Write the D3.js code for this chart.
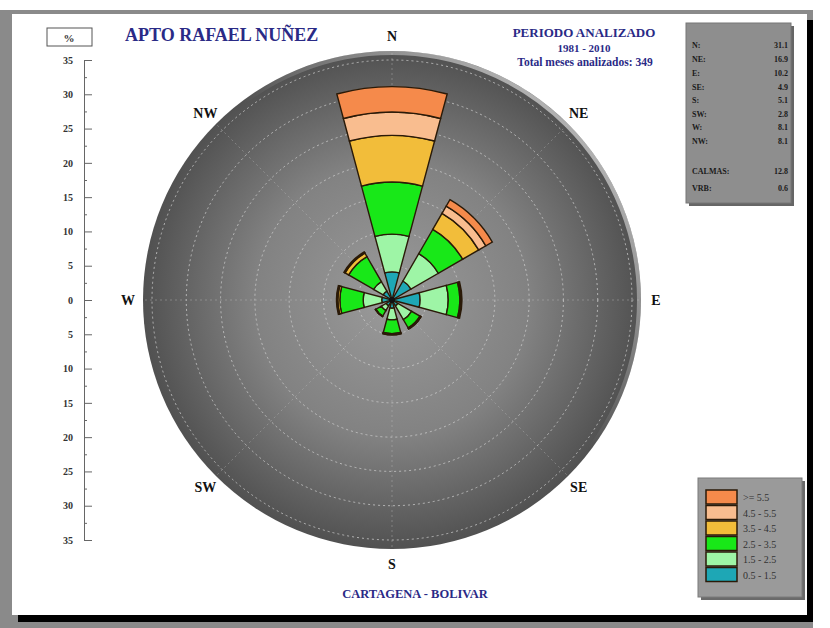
<!DOCTYPE html>
<meta charset="utf-8">
<style>
body { margin: 0; background: #fff; }
text { font-family: "Liberation Serif", "DejaVu Serif", serif; font-weight: bold; }
.grid circle { fill: none; stroke: #d0d0d0; stroke-opacity: 0.75; stroke-dasharray: 2,3; }
.grid line { stroke: #c8c8c8; stroke-opacity: 0.35; stroke-dasharray: 2,3; }
.petals path { stroke: #2a1a08; stroke-width: 1.4px; }
.axis text { font-size: 10px; fill: #333; }
.axis path, .axis line { stroke: #666; }
</style>
<svg width="830" height="628"></svg>
<script src="https://d3js.org/d3.v7.min.js"></script>
<script>

// ---- data ----
var directions = ["N", "NE", "E", "SE", "S", "SW", "W", "NW"];
var speedClasses = ["0.5 - 1.5", "1.5 - 2.5", "2.5 - 3.5", "3.5 - 4.5", "4.5 - 5.5", ">= 5.5"];
var classColors = ["#1ea7b5", "#9ef5a6", "#18e818", "#f2bd3a", "#f9bd8f", "#f58a4b"];

// frequency (%) of each speed class, one array per direction (N, NE, ... NW)
var freqN  = [4.1, 5.5, 7.6, 6.8, 3.4, 3.7];
var freqNE = [3.2, 4.6, 4.1, 2.7, 1.2, 1.1];
var freqE  = [4.1, 4.1, 1.7, 0.1, 0.1, 0.1];
var freqSE = [1.0, 2.3, 1.4, 0.1, 0.05, 0.05];
var freqS  = [1.2, 1.7, 2.0, 0.1, 0.05, 0.05];
var freqSW = [1.0, 0.8, 0.9, 0.05, 0.03, 0.02];
var freqW  = [1.5, 2.7, 3.4, 0.3, 0.1, 0.1];
var freqNW = [1.5, 1.6, 4.2, 0.6, 0.1, 0.1];

var statLabels = ["N:", "NE:", "E:", "SE:", "S:", "SW:", "W:", "NW:", "CALMAS:", "VRB:"];
var statValues = ["31.1", "16.9", "10.2", "4.9", "5.1", "2.8", "8.1", "8.1", "12.8", "0.6"];

var axisMajor = [-35, -30, -25, -20, -15, -10, -5, 0, 5, 10, 15, 20, 25, 30, 35];
var rings = [5, 10, 15, 20, 25, 30, 35];

var svg = d3.select("svg");
var cx = 392, cy = 300;
var navy = "#2a2a86";

// ---- frame ----
svg.append("rect").attr("x", 0).attr("y", 10).attr("width", 813).attr("height", 618).attr("fill", "#8a8a8a");
svg.append("rect").attr("x", 18).attr("y", 20).attr("width", 795).attr("height", 602).attr("fill", "#000");
svg.append("rect").attr("x", 12).attr("y", 14).attr("width", 795).attr("height", 601).attr("fill", "#fff");

// ---- scales ----
var r = d3.scaleLinear().domain([0, 35]).range([0, 240]);
var y = d3.scaleLinear().domain([-35, 35]).range([540, 60]);

// ---- background disc ----
var defs = svg.append("defs");
var grad = defs.append("radialGradient").attr("id", "disc").attr("cx", "50%").attr("cy", "50%").attr("r", "50%");
grad.append("stop").attr("offset", "0%").attr("stop-color", "#9a9a9a");
grad.append("stop").attr("offset", "55%").attr("stop-color", "#828282");
grad.append("stop").attr("offset", "100%").attr("stop-color", "#515151");

var hl = defs.append("linearGradient").attr("id", "shine").attr("x1", "0%").attr("y1", "100%").attr("x2", "100%").attr("y2", "0%");
hl.append("stop").attr("offset", "55%").attr("stop-color", "#fff").attr("stop-opacity", 0);
hl.append("stop").attr("offset", "85%").attr("stop-color", "#fff").attr("stop-opacity", 0.55);
hl.append("stop").attr("offset", "100%").attr("stop-color", "#fff").attr("stop-opacity", 0.2);

var chart = svg.append("g").attr("transform", "translate(" + cx + "," + cy + ")");
chart.append("circle").attr("r", 249).attr("fill", "url(#disc)");
chart.append("circle").attr("r", 247).attr("fill", "none").attr("stroke", "url(#shine)").attr("stroke-width", 4);

var grid = chart.append("g").attr("class", "grid");
grid.selectAll("circle").data(rings).enter().append("circle").attr("r", function(d) { return r(d); });
grid.selectAll("line").data(directions).enter().append("line")
    .attr("x1", 0).attr("y1", 0)
    .attr("x2", function(d, i) { return 249 * Math.sin(i * Math.PI / 4); })
    .attr("y2", function(d, i) { return -249 * Math.cos(i * Math.PI / 4); });

// ---- petals ----
var freqs = [freqN, freqNE, freqE, freqSE, freqS, freqSW, freqW, freqNW];
var half = 15 * Math.PI / 180;
var segments = [];
freqs.forEach(function(f, i) {
  var cum = 0;
  f.forEach(function(v, k) {
    segments.push({dir: i, cls: k, r0: cum, r1: cum + v});
    cum += v;
  });
});
var arc = d3.arc()
    .innerRadius(function(d) { return r(d.r0); })
    .outerRadius(function(d) { return r(d.r1); })
    .startAngle(function(d) { return d.dir * Math.PI / 4 - half; })
    .endAngle(function(d) { return d.dir * Math.PI / 4 + half; });

chart.append("g").attr("class", "petals")
  .selectAll("path")
  .data(segments)
  .enter().append("path")
    .attr("d", arc)
    .attr("fill", function(d) { return classColors[d.cls]; });
chart.append("circle").attr("r", 3).attr("fill", "#111");

// ---- compass labels ----
var labelR = 264;
chart.selectAll("text.dir").data(directions).enter().append("text")
    .attr("class", "dir")
    .attr("x", function(d, i) { return labelR * Math.sin(i * Math.PI / 4); })
    .attr("y", function(d, i) { return -labelR * Math.cos(i * Math.PI / 4) + 5; })
    .attr("text-anchor", "middle")
    .attr("font-size", 14)
    .attr("fill", "#111")
    .text(function(d) { return d; });

// ---- left axis ----
var minor = d3.range(-35, 35.1, 2.5).filter(function(d) { return d % 5 !== 0; });
svg.append("g").attr("class", "axis").attr("transform", "translate(84,0)")
  .call(d3.axisRight(y).tickValues(minor).tickSize(3).tickSizeOuter(0).tickFormat(""));
var ax = svg.append("g").attr("class", "axis").attr("transform", "translate(84,0)")
  .call(d3.axisRight(y).tickValues(axisMajor).tickSize(8).tickSizeOuter(8).tickFormat(function(d) { return Math.abs(d); }));
ax.selectAll("text").attr("x", -11).attr("text-anchor", "end");

svg.append("rect").attr("x", 47).attr("y", 28).attr("width", 45).attr("height", 18)
    .attr("fill", "#fff").attr("stroke", "#555").attr("stroke-width", 1);
svg.append("text").attr("x", 69).attr("y", 42).attr("text-anchor", "middle").attr("font-size", 11).attr("fill", "#333").text("%");

// ---- titles ----
svg.append("text").attr("x", 125).attr("y", 41).attr("font-size", 18).attr("fill", navy).text("APTO RAFAEL NUÑEZ");
svg.append("text").attr("x", 584).attr("y", 37).attr("text-anchor", "middle").attr("font-size", 13).attr("fill", navy).text("PERIODO ANALIZADO");
svg.append("text").attr("x", 584).attr("y", 52).attr("text-anchor", "middle").attr("font-size", 11).attr("fill", navy).text("1981 - 2010");
svg.append("text").attr("x", 585).attr("y", 66).attr("text-anchor", "middle").attr("font-size", 11.5).attr("fill", navy).text("Total meses analizados: 349");
svg.append("text").attr("x", 415).attr("y", 598).attr("text-anchor", "middle").attr("font-size", 12.5).attr("fill", navy).text("CARTAGENA - BOLIVAR");

// ---- stats box ----
svg.append("rect").attr("x", 689).attr("y", 26).attr("width", 105).attr("height", 180).attr("fill", "#666");
svg.append("rect").attr("x", 686).attr("y", 23).attr("width", 105).attr("height", 180).attr("fill", "#8e8e8e").attr("stroke", "#777");
var statY = [48, 62, 76, 90, 103, 117, 130, 144, 174, 191];
var stats = svg.append("g").attr("font-size", 8).attr("fill", "#1a1a1a");
stats.selectAll("text.lab").data(statLabels).enter().append("text").attr("class", "lab")
    .attr("x", 692).attr("y", function(d, i) { return statY[i]; }).text(function(d) { return d; });
stats.selectAll("text.val").data(statValues).enter().append("text").attr("class", "val")
    .attr("x", 788).attr("y", function(d, i) { return statY[i]; }).attr("text-anchor", "end").text(function(d) { return d; });

// ---- legend ----
svg.append("rect").attr("x", 701).attr("y", 481).attr("width", 104).attr("height", 119).attr("fill", "#6a6a6a");
svg.append("rect").attr("x", 698).attr("y", 478).attr("width", 104).attr("height", 119).attr("fill", "#9a9a9a").attr("stroke", "#7a7a7a");
var legendOrder = d3.range(speedClasses.length).reverse();
var leg = svg.append("g").selectAll("g").data(legendOrder).enter().append("g")
    .attr("transform", function(d, i) { return "translate(706," + (490 + i * 15.5) + ")"; });
leg.append("rect").attr("width", 31).attr("height", 14)
    .attr("fill", function(d) { return classColors[d]; }).attr("stroke", "#2a1a08").attr("stroke-width", 1.5);
leg.append("text").attr("x", 37).attr("y", 11).attr("font-size", 10)
    .style("font-weight", "normal").attr("fill", "#333").text(function(d) { return speedClasses[d]; });

</script>
